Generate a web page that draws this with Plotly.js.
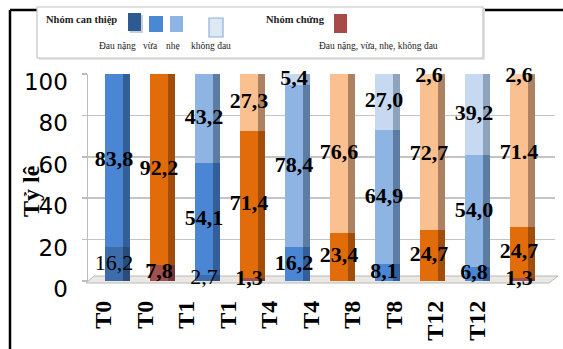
<!DOCTYPE html>
<html>
<head>
<meta charset="utf-8">
<script src="https://cdn.plot.ly/plotly-3.0.1.min.js"></script>
<style>
  html, body { margin: 0; padding: 0; background: #ffffff; }
  #chart { width: 563px; height: 349px; }
</style>
</head>
<body>
<div id="chart"></div>
<script>
// Bars along the axis: intervention / control pairs for each time point
const timePoints = ['T0', 'T0', 'T1', 'T1', 'T4', 'T4', 'T8', 'T8', 'T12', 'T12'];
const isIntervention = [true, false, true, false, true, false, true, false, true, false];

// Pain levels and group names (legend)
const painLevels = ['Đau nặng', 'vừa', 'nhẹ', 'không đau'];
const groupNames = ['Nhóm can thiệp', 'Nhóm chứng'];
const controlLegendText = 'Đau nặng, vừa, nhẹ, không đau';

// Intervention group, % per pain level at T0, T1, T4, T8, T12
const interventionSevere   = [16.2, 2.7, null, null, null];
const interventionModerate = [83.8, 54.1, 16.2, 8.1, 6.8];
const interventionMild     = [null, 43.2, 78.4, 64.9, 54.0];
const interventionNone     = [null, null, 5.4, 27.0, 39.2];

// Control group, % per pain level at T0, T1, T4, T8, T12
const controlSevere   = [7.8, 1.3, null, null, 1.3];
const controlModerate = [92.2, 71.4, 23.4, 24.7, 24.7];
const controlMild     = [null, 27.3, 76.6, 72.7, 71.4];
const controlNone     = [null, null, null, 2.6, 2.6];
// the last control "mild" label is printed with a decimal point
const controlMildText = ['', '27,3', '76,6', '72,7', '71.4'];

const yTicks = [0, 20, 40, 60, 80, 100];

// ---- geometry (pixels in the 563x349 page) ----
const PAGE_W = 563, PAGE_H = 349;
const L = 88, R = 555, T = 74, B = 281;
const W = R - L, H = B - T;
const px = x => (x - L) / W;          // page px -> paper x
const py = y => (B - y) / H;          // page px -> paper y

const barStep = 45, firstBar = 114;   // front-face centres
const x0 = -(firstBar - L) / barStep;
const xRange = [x0, x0 + W / barStep];
const labStep = 41.5, firstLab = 103.5; // category labels sit a little to the left (perspective)
const l0 = -(firstLab - L) / labStep;
const labRange = [l0, l0 + W / labStep];

const positions = timePoints.map((_, i) => i);
const interventionX = positions.filter(i => isIntervention[i]);
const controlX = positions.filter(i => !isIntervention[i]);

const fmt = v => (v === null ? '' : v.toFixed(1).replace('.', ','));

const interventionSeries = [
  { y: interventionSevere,   face: '#3d6cab', side: '#2a4c7a', bold: false },
  { y: interventionModerate, face: '#4a86d4', side: '#345e98', bold: true },
  { y: interventionMild,     face: '#8db4e2', side: '#5c7ca4', bold: true },
  { y: interventionNone,     face: '#c6d9f1', side: '#8ea3bd', bold: true }
];
const controlSeries = [
  { y: controlSevere,   face: '#a2504d', side: '#733938', bold: true },
  { y: controlModerate, face: '#e36c0a', side: '#a14e0c', bold: true },
  { y: controlMild,     face: '#fac090', side: '#ad8262', bold: true, text: controlMildText },
  { y: controlNone,     face: '#fbcfa6', side: '#b38b6a', bold: true }
];

// attach positions and the middle of each stacked segment (for its label)
function prepare(list, xs) {
  const base = xs.map(() => 0);
  list.forEach(s => {
    s.x = xs;
    s.mid = s.y.map((v, k) => (v === null ? null : base[k] + v / 2));
    s.y.forEach((v, k) => { base[k] += v || 0; });
  });
  return list;
}
const series = prepare(interventionSeries, interventionX).concat(prepare(controlSeries, controlX));

const FRONT_OFF = -0.195, FRONT_W = 0.39, SIDE_W = 0.16;
const traces = [];
// front faces
series.forEach(s => traces.push({
  type: 'bar', x: s.x, y: s.y, xaxis: 'x', yaxis: 'y',
  offset: FRONT_OFF, width: FRONT_W,
  marker: { color: s.face, line: { width: 0 } },
  hoverinfo: 'skip', showlegend: false
}));
// shaded side faces (stacked on their own overlaid axis)
series.forEach(s => traces.push({
  type: 'bar', x: s.x, y: s.y, xaxis: 'x2', yaxis: 'y',
  offset: FRONT_OFF + FRONT_W, width: SIDE_W,
  marker: { color: s.side, line: { width: 0 } },
  hoverinfo: 'skip', showlegend: false
}));
// category axis carrier (no visible marks)
traces.push({
  type: 'scatter', mode: 'markers', x: positions, y: positions.map(() => 0),
  xaxis: 'x3', yaxis: 'y', marker: { opacity: 0, size: 1 },
  hoverinfo: 'skip', showlegend: false
});
// value labels on top of everything
series.forEach(s => traces.push({
  type: 'scatter', mode: 'text', x: s.x, y: s.mid, xaxis: 'x4', yaxis: 'y',
  text: s.text || s.y.map(fmt), textposition: 'middle center', cliponaxis: false,
  textfont: { family: 'Liberation Serif', size: 22, color: '#000000', weight: s.bold ? 700 : 400 },
  hoverinfo: 'skip', showlegend: false
}));

// ---- legend box drawn as shapes + text ----
const rect = (x1, y1, x2, y2, fill, line, lw) => ({
  type: 'rect', xref: 'paper', yref: 'paper', layer: 'above',
  x0: px(x1), x1: px(x2), y0: py(y2), y1: py(y1),
  fillcolor: fill, line: { color: line || fill, width: lw || 0 }
});
const seg = (x1, y1, x2, y2, color, w, layer) => ({
  type: 'line', xref: 'paper', yref: 'paper', layer: layer || 'above',
  x0: px(x1), y0: py(y1), x1: px(x2), y1: py(y2),
  line: { color: color, width: w }
});

const shapes = [
  // floor of the plot
  { type: 'path', xref: 'paper', yref: 'paper', layer: 'between',
    path: `M ${px(86)} ${py(283)} L ${px(549)} ${py(283)} L ${px(558)} ${py(276)} L ${px(94)} ${py(276)} Z`,
    fillcolor: '#ebe7e3', line: { color: '#b9b9b9', width: 1 } },
  // outer frame
  seg(10, 10, PAGE_W + 5, 10, '#000000', 2.5),
  seg(10, 10, 10, PAGE_H + 5, '#000000', 2.5),
  // legend box with a light shadow
  rect(39, 9, 485, 60, '#e4e4e4'),
  rect(37, 7, 483, 58, '#ffffff', '#c3c3c3', 1.2),
  // intervention swatches
  rect(130, 15, 143, 33, '#c9cfd8'),
  rect(128, 13, 141, 31, '#2e5a93'),
  rect(149, 16, 163, 32, '#4a87d5'),
  rect(170, 16, 183, 32, '#8eb4e3'),
  rect(209, 18, 223, 37, '#dde8f5', '#8fb0d8', 1.2),
  // control swatch
  rect(334, 14, 347, 33, '#a84a4a')
];

const ann = (x, y, text, size, bold, anchor) => ({
  xref: 'paper', yref: 'paper', x: px(x), y: py(y), showarrow: false,
  xanchor: anchor || 'left', yanchor: 'middle', text: text,
  font: { family: 'Liberation Serif', size: size, color: '#222222', weight: bold ? 700 : 400 }
});

const annotations = [
  ann(44, 20, groupNames[0], 10.5, true),
  ann(117, 46, painLevels[0], 9.5, false, 'center'),
  ann(150, 46, painLevels[1], 9.5, false, 'center'),
  ann(173, 46, painLevels[2], 9.5, false, 'center'),
  ann(211, 46, painLevels[3], 9.5, false, 'center'),
  ann(264, 20, groupNames[1], 10.5, true),
  ann(378, 46, controlLegendText, 9.5, false, 'center'),
  // y axis title
  { xref: 'paper', yref: 'paper', x: px(31), y: py(191), showarrow: false,
    xanchor: 'center', yanchor: 'middle', textangle: -90, text: 'Tỷ lệ',
    font: { family: 'Liberation Serif', size: 24, color: '#000000', weight: 700 } }
];

const layout = {
  width: PAGE_W, height: PAGE_H,
  margin: { l: L, r: PAGE_W - R, t: T, b: PAGE_H - B, pad: 0 },
  paper_bgcolor: '#ffffff', plot_bgcolor: 'rgba(0,0,0,0)',
  barmode: 'stack', showlegend: false,
  xaxis:  { range: xRange, showticklabels: false, showgrid: false, zeroline: false, ticks: '', showline: false },
  xaxis2: { overlaying: 'x', range: xRange, visible: false },
  xaxis4: { overlaying: 'x', range: xRange, visible: false },
  xaxis3: {
    overlaying: 'x', anchor: 'y', side: 'bottom', range: labRange,
    tickmode: 'array', tickvals: positions, ticktext: timePoints, tickangle: -90,
    tickfont: { family: 'Liberation Serif', size: 24, color: '#000000', weight: 700 },
    showgrid: false, zeroline: false, ticks: '', showline: false, ticklabelstandoff: 14
  },
  yaxis: {
    range: [0, 100], tickmode: 'array', tickvals: yTicks,
    showgrid: true, gridcolor: '#c4c4c4', gridwidth: 1.5,
    showline: true, linecolor: '#bdbdbd', linewidth: 1.5,
    ticks: 'outside', ticklen: 5, tickcolor: '#bdbdbd', tickwidth: 1.5,
    tickfont: { family: 'DejaVu Sans', size: 23, color: '#000000' },
    ticklabelstandoff: 9, ticklabelshift: 8, zeroline: false
  },
  shapes: shapes,
  annotations: annotations
};

Plotly.newPlot('chart', traces, layout, { staticPlot: true, displayModeBar: false });
</script>
</body>
</html>
